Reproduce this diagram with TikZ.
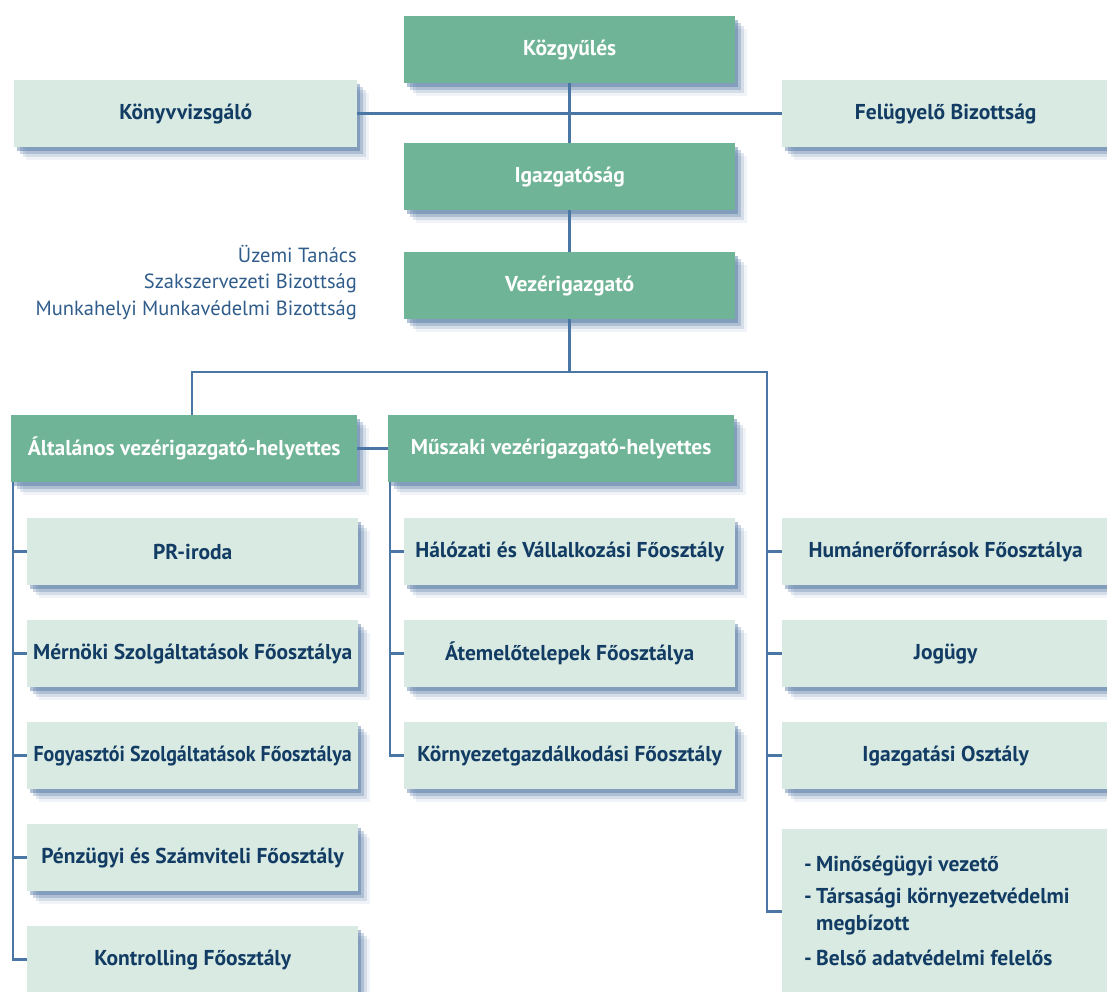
\documentclass[tikz,border=0pt]{standalone}
\usepackage{fontspec}
\usepackage{graphicx}
\setmainfont{PT Sans}
\usetikzlibrary{shadows,calc}
\definecolor{dk}{HTML}{70B497}
\definecolor{lt}{HTML}{D9EAE2}
\definecolor{navy}{HTML}{123C63}
\definecolor{ln}{HTML}{4A76A4}
\definecolor{sh}{HTML}{42699A}
\definecolor{lighttxt}{HTML}{2F5C8A}
\tikzset{
  boxshadow/.style={
    general shadow={fill=sh, opacity=0.08, shadow xshift=12pt, shadow yshift=-13pt},
    general shadow={fill=sh, opacity=0.16, shadow xshift=9pt, shadow yshift=-10pt},
    general shadow={fill=sh, opacity=0.26, shadow xshift=6pt, shadow yshift=-7pt},
    general shadow={fill=sh, opacity=0.40, shadow xshift=3pt, shadow yshift=-4pt}},
  basebox/.style={boxshadow, rectangle, inner sep=0pt, minimum height=67pt,
    anchor=north west, font=\bfseries\fontsize{21.5}{24}\selectfont},
  dkbox/.style={basebox, fill=dk, text=white},
  ltbox/.style={basebox, fill=lt, text=navy},
  conn/.style={draw=ln, line width=2.6pt},
  lighttext/.style={text=lighttxt, inner sep=0pt, font=\fontsize{20.5}{24}\selectfont},
  listtext/.style={text=navy, inner sep=0pt, anchor=base west, font=\bfseries\fontsize{21.5}{24}\selectfont}
}
\begin{document}
\begin{tikzpicture}[x=1pt,y=-1pt]
\useasboundingbox (0,0) rectangle (1107,992);
\clip (0,0) rectangle (1107,992);
% top
\node[dkbox, minimum width=331pt] (kg) at (404,16) {Közgyűlés};
\node[ltbox, minimum width=343pt] (kv) at (14,80) {Könyvvizsgáló};
\node[ltbox, minimum width=327pt] (fb) at (782,80) {Felügyelő Bizottság};
\node[dkbox, minimum width=331pt] (ig) at (404,143) {Igazgatóság};
\node[dkbox, minimum width=331pt] (vz) at (404,252) {Vezérigazgató};
\node[lighttext, anchor=base east] (ut1) at (357,262) {Üzemi Tanács};
\node[lighttext, anchor=base east] (ut2) at (357,288.5) {Szakszervezeti Bizottság};
\node[lighttext, anchor=base east] (ut3) at (357,315) {Munkahelyi Munkavédelmi Bizottság};
% deputies
\node[dkbox, minimum width=346pt] (alt) at (11,415) {Általános vezérigazgató-helyettes};
\node[dkbox, minimum width=346pt] (musz) at (388,415) {Műszaki vezérigazgató-helyettes};
% left column
\node[ltbox, minimum width=331pt] (l1) at (27,518) {PR-iroda};
\node[ltbox, minimum width=331pt] (l2) at (27,620) {Mérnöki Szolgáltatások Főosztálya};
\node[ltbox, minimum width=331pt] (l3) at (27,722) {\scalebox{0.93}[1]{Fogyasztói Szolgáltatások Főosztálya}};
\node[ltbox, minimum width=331pt] (l4) at (27,824) {Pénzügyi és Számviteli Főosztály};
\node[ltbox, minimum width=331pt] (l5) at (27,926) {Kontrolling Főosztály};
% middle column
\node[ltbox, minimum width=331pt] (m1) at (404,518) {Hálózati és Vállalkozási Főosztály};
\node[ltbox, minimum width=331pt] (m2) at (404,620) {Átemelőtelepek Főosztálya};
\node[ltbox, minimum width=331pt] (m3) at (404,722) {Környezetgazdálkodási Főosztály};
% right column
\node[ltbox, minimum width=327pt] (r1) at (782,518) {Humánerőforrások Főosztálya};
\node[ltbox, minimum width=327pt] (r2) at (782,620) {Jogügy};
\node[ltbox, minimum width=327pt] (r3) at (782,722) {Igazgatási Osztály};
\node[ltbox, minimum width=327pt, minimum height=165pt] (r4) at (782,829) {};
\node[listtext] (q1d) at (804,871) {-};
\node[listtext] (q1) at (816,871) {Minőségügyi vezető};
\node[listtext] (q2d) at (804,903) {-};
\node[listtext] (q2) at (816,903) {Társasági környezetvédelmi};
\node[listtext] (q2b) at (816,930) {megbízott};
\node[listtext] (q3d) at (804,965) {-};
\node[listtext] (q3) at (816,965) {Belső adatvédelmi felelős};
% connectors
\coordinate (hl) at (192,372);
\coordinate (hr) at (767,372);
\coordinate (vl) at (13,0);
\coordinate (vm) at (390,0);
\draw[conn] (kv.east) -- (fb.west);
\draw[conn] (kg.south) -- (ig.north);
\draw[conn] (ig.south) -- (vz.north);
\draw[conn] (vz.south) -- (vz.south |- hl);
\draw[conn] (alt.north -| hl) -- (hl) -- (hr) -- (hr |- r4.west) -- (r4.west);
\foreach \n in {r1,r2,r3} \draw[conn] (hr |- \n.west) -- (\n.west);
\draw[conn] (alt.east) -- (musz.west);
\draw[conn] (alt.south -| vl) -- (vl |- l5.west) -- (l5.west);
\foreach \n in {l1,l2,l3,l4} \draw[conn] (vl |- \n.west) -- (\n.west);
\draw[conn] (musz.south -| vm) -- (vm |- m3.west) -- (m3.west);
\foreach \n in {m1,m2} \draw[conn] (vm |- \n.west) -- (\n.west);
\end{tikzpicture}
\end{document}
